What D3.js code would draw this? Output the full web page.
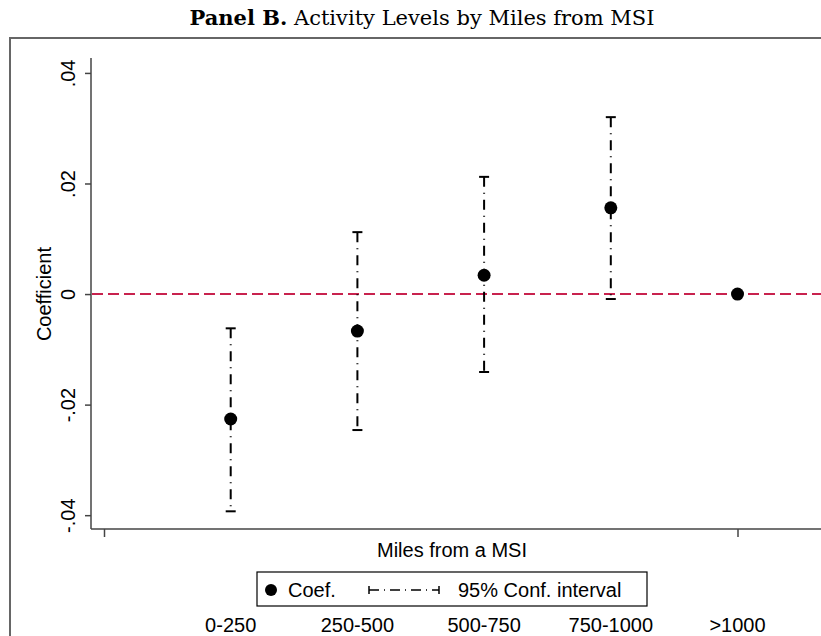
<!DOCTYPE html>
<html>
  <head>
    <script src="https://cdn.jsdelivr.net/npm/d3@7"></script>
    <style>
      body { margin: 0; background: #fff; }
      svg text { font-family: "Liberation Sans", Arial, sans-serif; fill: #000; }
    </style>
  </head>
  <body>
    <svg width="821" height="636"></svg>
    <script>
      // data
      var categories = ['0-250', '250-500', '500-750', '750-1000', '>1000'];
      var coef  = [-0.0226, -0.0067, 0.0034, 0.0156, 0];
      var ciLow = [-0.0393, -0.0246, -0.0141, -0.0009, 0];
      var ciHigh = [-0.0062, 0.0112, 0.0212, 0.0320, 0];
      var yTicks = [-0.04, -0.02, 0, 0.02, 0.04];
      var yTickLabels = ['-.04', '-.02', '0', '.02', '.04'];

      var svg = d3.select('svg');
      var fs = '20px';

      var x = d3.scaleLinear().domain([0, 5]).range([104, 737.5]);
      var y = d3.scaleLinear().domain([-0.0425, 0.0427]).range([529, 58]);

      // outer frame (cut off on right and bottom)
      svg.append('rect')
        .attr('x', 10).attr('y', 38).attr('width', 840).attr('height', 640)
        .attr('fill', 'none').attr('stroke', '#666').attr('stroke-width', 2);

      // title
      var title = svg.append('text')
        .attr('x', 422).attr('y', 25)
        .attr('text-anchor', 'middle')
        .style('font-family', '"DejaVu Serif", "Liberation Serif", serif')
        .style('font-size', '21px');
      title.append('tspan').style('font-weight', 'bold').text('Panel B.');
      title.append('tspan').text(' Activity Levels by Miles from MSI');

      // y axis
      var yAxis = svg.append('g')
        .attr('transform', 'translate(91,0)')
        .call(d3.axisLeft(y).tickValues(yTicks).tickSize(6)
          .tickFormat(function(d, i) { return yTickLabels[i]; }));
      yAxis.select('.domain').attr('d', 'M0,' + y.range()[1] + 'V' + y.range()[0])
        .attr('stroke', '#444').attr('stroke-width', 1.5);
      yAxis.selectAll('.tick line').attr('stroke', '#444').attr('stroke-width', 1.5);
      yAxis.selectAll('.tick text')
        .attr('transform', 'rotate(-90)')
        .attr('x', 0).attr('y', -16).attr('dy', 0)
        .attr('text-anchor', 'middle')
        .style('font-size', fs)
        .style('font-family', '"Liberation Sans", Arial, sans-serif');

      // x axis
      var xAxis = svg.append('g')
        .attr('transform', 'translate(0,529)')
        .call(d3.axisBottom(x).tickValues([0, 5]).tickSize(8).tickFormat(''));
      xAxis.select('.domain').attr('d', 'M91,0H821')
        .attr('stroke', '#444').attr('stroke-width', 1.5);
      xAxis.selectAll('.tick line').attr('stroke', '#444').attr('stroke-width', 1.5);

      // axis titles
      svg.append('text')
        .attr('transform', 'translate(51,' + y(0) + ') rotate(-90)')
        .attr('text-anchor', 'middle')
        .style('font-size', fs)
        .text('Coefficient');
      svg.append('text')
        .attr('x', 452).attr('y', 557)
        .attr('text-anchor', 'middle')
        .style('font-size', fs)
        .text('Miles from a MSI');

      // zero reference line
      svg.append('line')
        .attr('x1', 92).attr('x2', 821)
        .attr('y1', y(0)).attr('y2', y(0))
        .attr('stroke', '#c8224e').attr('stroke-width', 2)
        .attr('stroke-dasharray', '11,5');

      var idx = d3.range(categories.length);
      var withCi = idx.filter(function(i) { return ciHigh[i] !== ciLow[i]; });

      // confidence intervals
      var ci = svg.append('g');
      ci.selectAll('line.ci').data(withCi)
        .enter().append('line')
        .attr('x1', function(i) { return x(i + 1); })
        .attr('x2', function(i) { return x(i + 1); })
        .attr('y1', function(i) { return y(ciHigh[i]); })
        .attr('y2', function(i) { return y(ciLow[i]); })
        .attr('stroke', '#000').attr('stroke-width', 2)
        .attr('stroke-dasharray', '10,6,1,6');
      ['hi', 'lo'].forEach(function(k) {
        ci.selectAll('line.cap' + k).data(withCi)
          .enter().append('line')
          .attr('x1', function(i) { return x(i + 1) - 5; })
          .attr('x2', function(i) { return x(i + 1) + 5; })
          .attr('y1', function(i) { return y(k === 'hi' ? ciHigh[i] : ciLow[i]); })
          .attr('y2', function(i) { return y(k === 'hi' ? ciHigh[i] : ciLow[i]); })
          .attr('stroke', '#000').attr('stroke-width', 2);
      });

      // coefficient dots
      svg.append('g').selectAll('circle').data(idx)
        .enter().append('circle')
        .attr('cx', function(i) { return x(i + 1); })
        .attr('cy', function(i) { return y(coef[i]); })
        .attr('r', 6.5)
        .attr('fill', '#000');

      // legend
      var lg = svg.append('g');
      lg.append('rect')
        .attr('x', 257).attr('y', 572).attr('width', 390).attr('height', 34)
        .attr('fill', '#fff').attr('stroke', '#000').attr('stroke-width', 1.2);
      lg.append('circle').attr('cx', 271).attr('cy', 590).attr('r', 6).attr('fill', '#000');
      lg.append('text').attr('x', 288).attr('y', 597).style('font-size', fs).text('Coef.');
      lg.append('line').attr('x1', 369).attr('x2', 439).attr('y1', 590).attr('y2', 590)
        .attr('stroke', '#000').attr('stroke-width', 1.5).attr('stroke-dasharray', '10,5,1,5');
      lg.append('line').attr('x1', 369).attr('x2', 369).attr('y1', 586).attr('y2', 594)
        .attr('stroke', '#000').attr('stroke-width', 1.5);
      lg.append('line').attr('x1', 439).attr('x2', 439).attr('y1', 586).attr('y2', 594)
        .attr('stroke', '#000').attr('stroke-width', 1.5);
      lg.append('text').attr('x', 458).attr('y', 597).style('font-size', fs).text('95% Conf. interval');

      // category labels
      svg.append('g').selectAll('text').data(categories)
        .enter().append('text')
        .attr('x', function(d, i) { return x(i + 1); })
        .attr('y', 632)
        .attr('text-anchor', 'middle')
        .style('font-size', fs)
        .text(function(d) { return d; });
    </script>
  </body>
</html>
